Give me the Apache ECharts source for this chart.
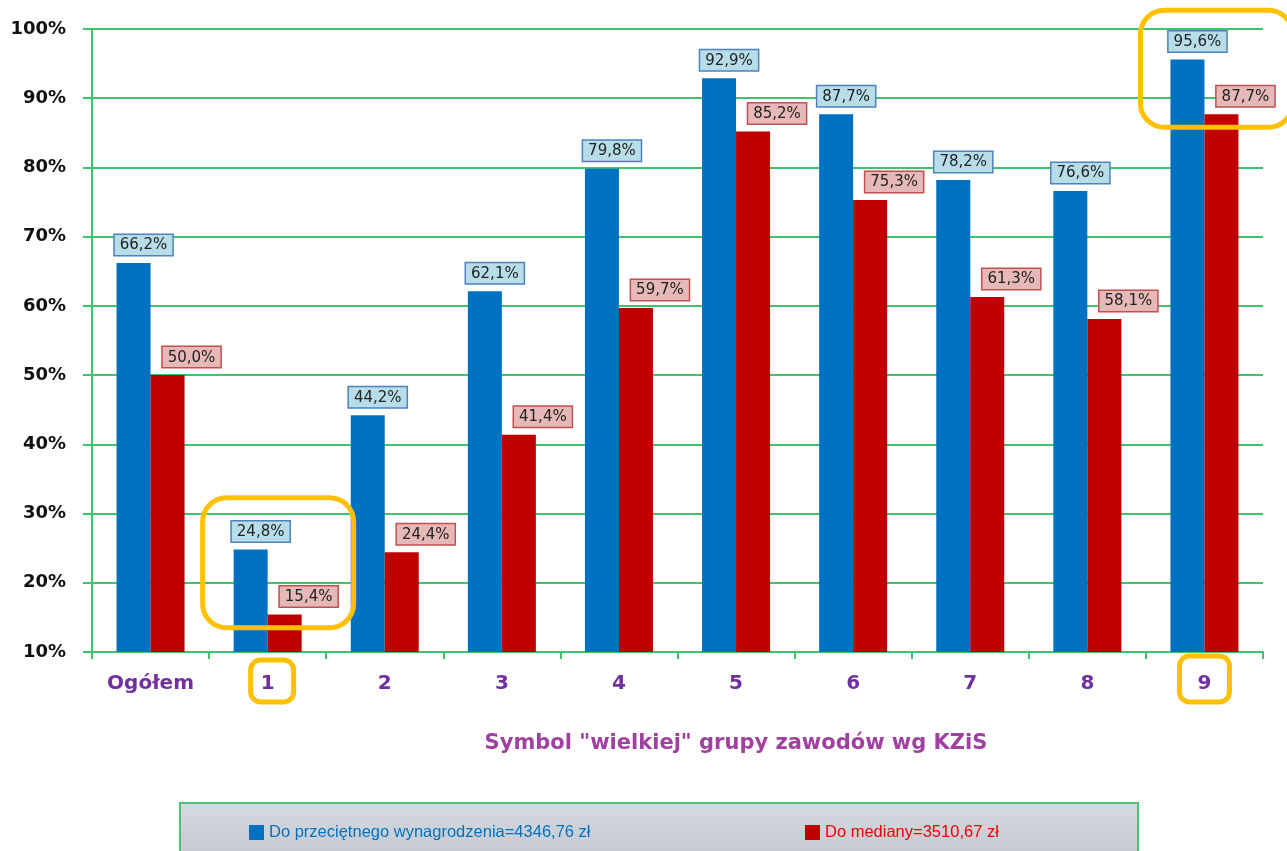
<!DOCTYPE html>
<html>
<head>
<meta charset="utf-8">
<script src="https://cdn.jsdelivr.net/npm/echarts@6/dist/echarts.min.js"></script>
<style>
  html, body { margin: 0; padding: 0; background: #fff; }
  #chart { width: 1287px; height: 851px; }
</style>
</head>
<body>
<div id="chart"></div>
<script>
const categories = ['Ogółem', '1', '2', '3', '4', '5', '6', '7', '8', '9']
const doPrzecietnego = [66.2, 24.8, 44.2, 62.1, 79.8, 92.9, 87.7, 78.2, 76.6, 95.6]
const doMediany = [50.0, 15.4, 24.4, 41.4, 59.7, 85.2, 75.3, 61.3, 58.1, 87.7]
const seriesNames = ['Do przeciętnego wynagrodzenia=4346,76 zł', 'Do mediany=3510,67 zł']
const axisTitle = 'Symbol "wielkiej" grupy zawodów wg KZiS'

const green = '#3cc46e'
const fmt = (v) => v.toFixed(1).replace('.', ',') + '%'

const chart = echarts.init(document.getElementById('chart'))

function labelStyle(bg, border, dx) {
    return {
        show: true,
        position: 'top',
        distance: 8,
        offset: [dx, 0],
        formatter: (p) => fmt(p.value),
        fontFamily: 'DejaVu Sans',
        fontSize: 15,
        color: '#222',
        backgroundColor: bg,
        borderColor: border,
        borderWidth: 1.5,
        padding: [3, 5, 2, 5]
    }
}

const legendText = { fontFamily: 'Liberation Sans', fontSize: 16.5 }

chart.setOption({
    animation: false,
    grid: { left: 92, top: 29, right: 24, bottom: 199 },
    legend: [
        {
            data: [seriesNames[0]], left: 244, top: 819, itemWidth: 15, itemHeight: 15, itemGap: 6,
            icon: 'rect', textStyle: Object.assign({ color: '#0070c0' }, legendText)
        },
        {
            data: [seriesNames[1]], left: 800, top: 819, itemWidth: 15, itemHeight: 15, itemGap: 6,
            icon: 'rect', textStyle: Object.assign({ color: '#ee0000' }, legendText)
        }
    ],
    xAxis: {
        type: 'category',
        data: categories,
        axisLine: { lineStyle: { color: green, width: 2 } },
        axisTick: { show: true, length: 7, lineStyle: { color: green, width: 2 } },
        axisLabel: {
            color: '#7030a0', fontFamily: 'DejaVu Sans', fontWeight: 'bold', fontSize: 20, margin: 22
        }
    },
    yAxis: {
        type: 'value',
        min: 10, max: 100, interval: 10,
        axisLine: { show: true, lineStyle: { color: green, width: 2 } },
        axisTick: { show: true, length: 9, lineStyle: { color: green, width: 2 } },
        splitLine: { lineStyle: { color: green, width: 2 } },
        axisLabel: {
            formatter: '{value}%', color: '#111', fontFamily: 'DejaVu Sans', fontWeight: 'bold', fontSize: 18, margin: 26
        }
    },
    series: [
        {
            name: seriesNames[0], type: 'bar', data: doPrzecietnego, barWidth: 34, barGap: '0%',
            itemStyle: { color: '#0070c0' },
            label: labelStyle('#b7dee8', '#4f81bd', 10)
        },
        {
            name: seriesNames[1], type: 'bar', data: doMediany, barWidth: 34,
            itemStyle: { color: '#c00000' },
            label: labelStyle('#e6b9b8', '#c0504d', 24)
        }
    ]
})

// annotation boxes, placed relative to the axes
function px(cat, val) {
    return chart.convertToPixel({ gridIndex: 0 }, [cat, val])
}
function ring(x1, y1, x2, y2, r) {
    return {
        type: 'rect', z: 50,
        shape: { x: x1, y: y1, width: x2 - x1, height: y2 - y1, r: r },
        style: { fill: 'none', stroke: '#ffc000', lineWidth: 5 }
    }
}
const c1 = px('1', 32.3), c1b = px('1', 13.5)
const c9 = px('9', 102.7), c9b = px('9', 85.8)
const axisY = px('1', 10)[1]

chart.setOption({
    graphic: [
        {
            type: 'rect', z: -1,
            shape: { x: 180, y: 803, width: 958, height: 62 },
            style: {
                fill: new echarts.graphic.LinearGradient(0, 0, 0, 1, [
                    { offset: 0, color: '#d6dbe1' }, { offset: 1, color: '#c2c6cc' }
                ]),
                stroke: '#4cc17a', lineWidth: 2
            }
        },
        {
            type: 'text', x: 736, y: 733,
            style: {
                text: axisTitle, fill: '#a040a0', font: 'bold 21px "DejaVu Sans"', align: 'center'
            }
        },
        ring(c1[0] - 65, c1[1], c1[0] + 86, c1b[1], 24),
        ring(c1[0] - 17, axisY + 8, c1[0] + 26, axisY + 50, 10),
        ring(c9[0] - 64, c9[1], c9[0] + 88, c9b[1], 24),
        ring(c9[0] - 25, axisY + 4, c9[0] + 25, axisY + 50, 10)
    ]
})
</script>
</body>
</html>
